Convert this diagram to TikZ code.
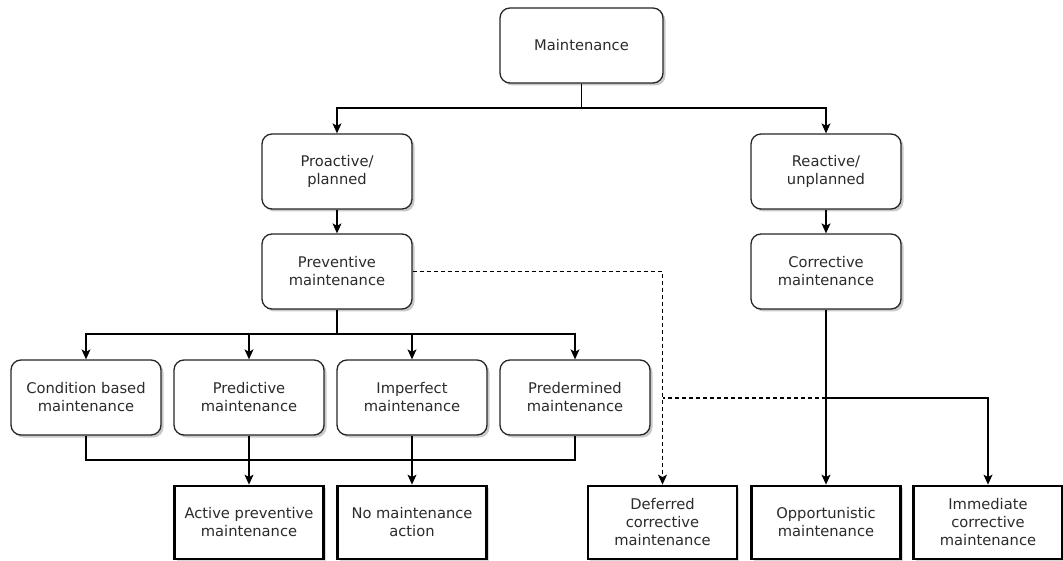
\documentclass[tikz,border=0pt]{standalone}
\usepackage{fontspec}
\setmainfont{DejaVu Sans}
\usetikzlibrary{arrows.meta,shadows}
\definecolor{txt}{HTML}{2B2B2B}
\begin{document}
\begin{tikzpicture}[x=1pt,y=-1pt,
  roundbox/.style={draw=black!85, line width=1.3pt, rounded corners=10pt, fill=white,
    minimum width=150pt, minimum height=75pt, align=center, text=txt,
    font=\fontsize{14.7}{18}\selectfont,
    drop shadow={shadow xshift=2.5pt, shadow yshift=-2.5pt, fill=black!30, opacity=0.7}},
  leafbox/.style={draw=black, line width=2.8pt, fill=white,
    minimum width=149pt, minimum height=73pt, align=center, text=txt,
    font=\fontsize{14.7}{18}\selectfont,
    drop shadow={shadow xshift=2pt, shadow yshift=-2pt, fill=black!25, opacity=0.6}},
  link/.style={draw=black, line width=1.1pt},
  arr/.style={link, -{Stealth[length=10pt,width=9pt,inset=2.5pt]}},
  dlink/.style={link, dash pattern=on 4pt off 3pt}
]
\useasboundingbox (0,0) rectangle (1063,561);

% top level
\node[roundbox, minimum width=163pt] (mnt) at (581.5,45.5) {Maintenance};
\node[roundbox] (pro) at (337,171.5) {Proactive/\\planned};
\node[roundbox] (rea) at (826,171.5) {Reactive/\\unplanned};
\node[roundbox] (prv) at (337,271.5) {Preventive\\maintenance};
\node[roundbox] (cor) at (826,271.5) {Corrective\\maintenance};

% preventive branches
\node[roundbox] (cbm) at (86,397.5) {Condition based\\maintenance};
\node[roundbox] (pdm) at (249,397.5) {Predictive\\maintenance};
\node[roundbox] (imp) at (412,397.5) {Imperfect\\maintenance};
\node[roundbox] (pre) at (575,397.5) {Predermined\\maintenance};

% outcomes
\node[leafbox] (apm) at (249,522.5) {Active preventive\\maintenance};
\node[leafbox] (nma) at (412,522.5) {No maintenance\\action};
\node[leafbox] (dcm) at (662.5,522.5) {Deferred\\corrective\\maintenance};
\node[leafbox] (opp) at (826,522.5) {Opportunistic\\maintenance};
\node[leafbox] (imm) at (988,522.5) {Immediate\\corrective\\maintenance};

% junction points
\coordinate (j1) at (581.5,108);
\coordinate (j2) at (337,334);
\coordinate (j3) at (86,460);
\coordinate (j4) at (826,398);

% connectors
\draw[link] (mnt.south) -- (j1);
\draw[arr] (j1) -| (pro.north);
\draw[arr] (j1) -| (rea.north);
\draw[arr] (pro) -- (prv);
\draw[arr] (rea) -- (cor);

\draw[link] (prv.south) -- (j2);
\draw[arr] (j2) -| (cbm.north);
\draw[arr] (j2) -| (pdm.north);
\draw[arr] (j2) -| (imp.north);
\draw[arr] (j2) -| (pre.north);

\draw[link] (cbm.south) -- (j3) -| (pre.south);
\draw[arr] (pdm.south) -- (apm.north);
\draw[arr] (imp.south) -- (nma.north);

\draw[arr] (cor.south) -- (opp.north);
\draw[arr] (j4) -| (imm.north);
\draw[dlink] (j4) -- (j4 -| dcm.north);
\draw[dlink, -{Stealth[length=10pt,width=9pt,inset=2.5pt]}] (prv.east) -| (dcm.north);
\end{tikzpicture}
\end{document}
